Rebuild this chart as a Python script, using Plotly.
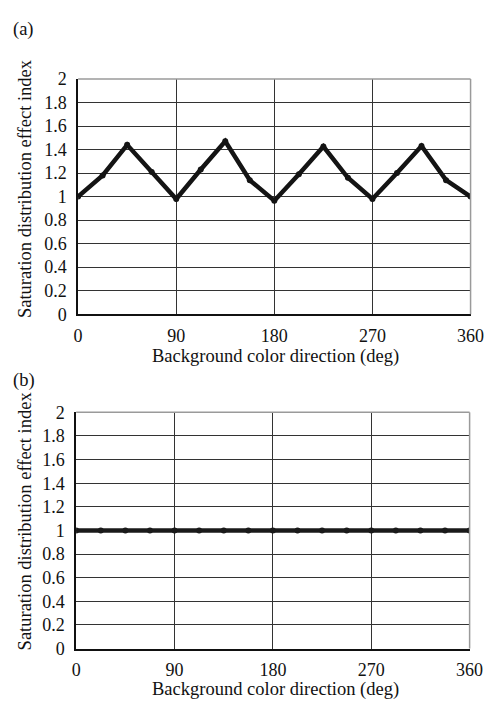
import plotly.graph_objects as go

directions = [0, 22.5, 45, 67.5, 90, 112.5, 135, 157.5, 180, 202.5, 225, 247.5, 270, 292.5, 315, 337.5, 360]
index_a = [1.0, 1.18, 1.44, 1.21, 0.98, 1.23, 1.47, 1.14, 0.965, 1.19, 1.425, 1.16, 0.98, 1.2, 1.43, 1.14, 1.0]
index_b = [1.0] * 17
x_ticks = [0, 90, 180, 270, 360]
y_ticks = [0, 0.2, 0.4, 0.6, 0.8, 1, 1.2, 1.4, 1.6, 1.8, 2]
y_labels = ["0", "0.2", "0.4", "0.6", "0.8", "1", "1.2", "1.4", "1.6", "1.8", "2"]
x_title = "Background color direction (deg)"
y_title = "Saturation distribution effect index"

W, H = 499, 711
FONT = "Liberation Serif"

def px(v):
    return v / W

def py(v):
    return 1 - v / H

fig = go.Figure()
fig.add_trace(go.Scatter(x=directions, y=index_a, mode="lines+markers",
                         line=dict(color="#141414", width=4.5), marker=dict(color="#141414", size=6),
                         xaxis="x", yaxis="y", showlegend=False))
fig.add_trace(go.Scatter(x=directions, y=index_b, mode="lines+markers",
                         line=dict(color="#1a1a1a", width=4.5), marker=dict(color="#1a1a1a", size=6),
                         xaxis="x2", yaxis="y2", showlegend=False))

panels = [
    dict(xd=(76, 484), yd=(71, 313), label="(a)", ly=20, xt=44, yc=184),
    dict(xd=(74, 483), yd=(414, 657), label="(b)", ly=381, xt=42, yc=526),
]

TICK = 18
TITLE = 18.5

axis_common_x = dict(range=[0, 360], tickvals=x_ticks, ticktext=[str(t) for t in x_ticks],
                     showgrid=True, gridcolor="#333333", gridwidth=1,
                     showline=True, linecolor="#111", linewidth=1.5,
                     zeroline=False, ticks="", ticklabelstandoff=4,
                     tickfont=dict(family=FONT, size=TICK, color="#111"))
axis_common_y = dict(range=[0, 2], tickvals=y_ticks, ticktext=y_labels,
                     showgrid=True, gridcolor="#333333", gridwidth=1,
                     showline=True, linecolor="#111", linewidth=1.5,
                     zeroline=False, ticks="", ticklabelstandoff=6,
                     tickfont=dict(family=FONT, size=TICK, color="#111"))

shapes = []
annotations = []
for i, p in enumerate(panels):
    x0, x1 = p["xd"]
    yt, yb = p["yd"]
    xdom = [px(x0), px(x1)]
    ydom = [py(yb), py(yt)]
    suffix = "" if i == 0 else "2"
    fig.layout["xaxis" + suffix] = dict(axis_common_x, domain=xdom, anchor="y" + suffix)
    fig.layout["yaxis" + suffix] = dict(axis_common_y, domain=ydom, anchor="x" + suffix)
    shapes.append(dict(type="line", xref="paper", yref="paper", x0=xdom[0], x1=xdom[1],
                       y0=ydom[1], y1=ydom[1], line=dict(color="#9a9a9a", width=1.5)))
    shapes.append(dict(type="line", xref="paper", yref="paper", x0=xdom[1], x1=xdom[1],
                       y0=ydom[0], y1=ydom[1], line=dict(color="#9a9a9a", width=1.5)))
    annotations.append(dict(text=x_title, xref="paper", yref="paper", x=px(281),
                            y=py(yb + p["xt"]), xanchor="center", yanchor="middle", showarrow=False,
                            font=dict(family=FONT, size=TITLE, color="#111")))
    annotations.append(dict(text=y_title, xref="paper", yref="paper", x=px(21),
                            y=py(p["yc"]), xanchor="center", yanchor="middle", showarrow=False,
                            textangle=-90, font=dict(family=FONT, size=TITLE, color="#111")))
    annotations.append(dict(text=p["label"], xref="paper", yref="paper", x=px(6),
                            y=py(p["ly"]), xanchor="left", yanchor="middle", showarrow=False,
                            font=dict(family=FONT, size=TITLE, color="#111")))

fig.update_layout(width=W, height=H, margin=dict(l=0, r=0, t=0, b=0),
                  paper_bgcolor="white", plot_bgcolor="white",
                  font=dict(family=FONT, size=TICK, color="#111"),
                  shapes=shapes, annotations=annotations, showlegend=False)

fig.write_html("out.html")
